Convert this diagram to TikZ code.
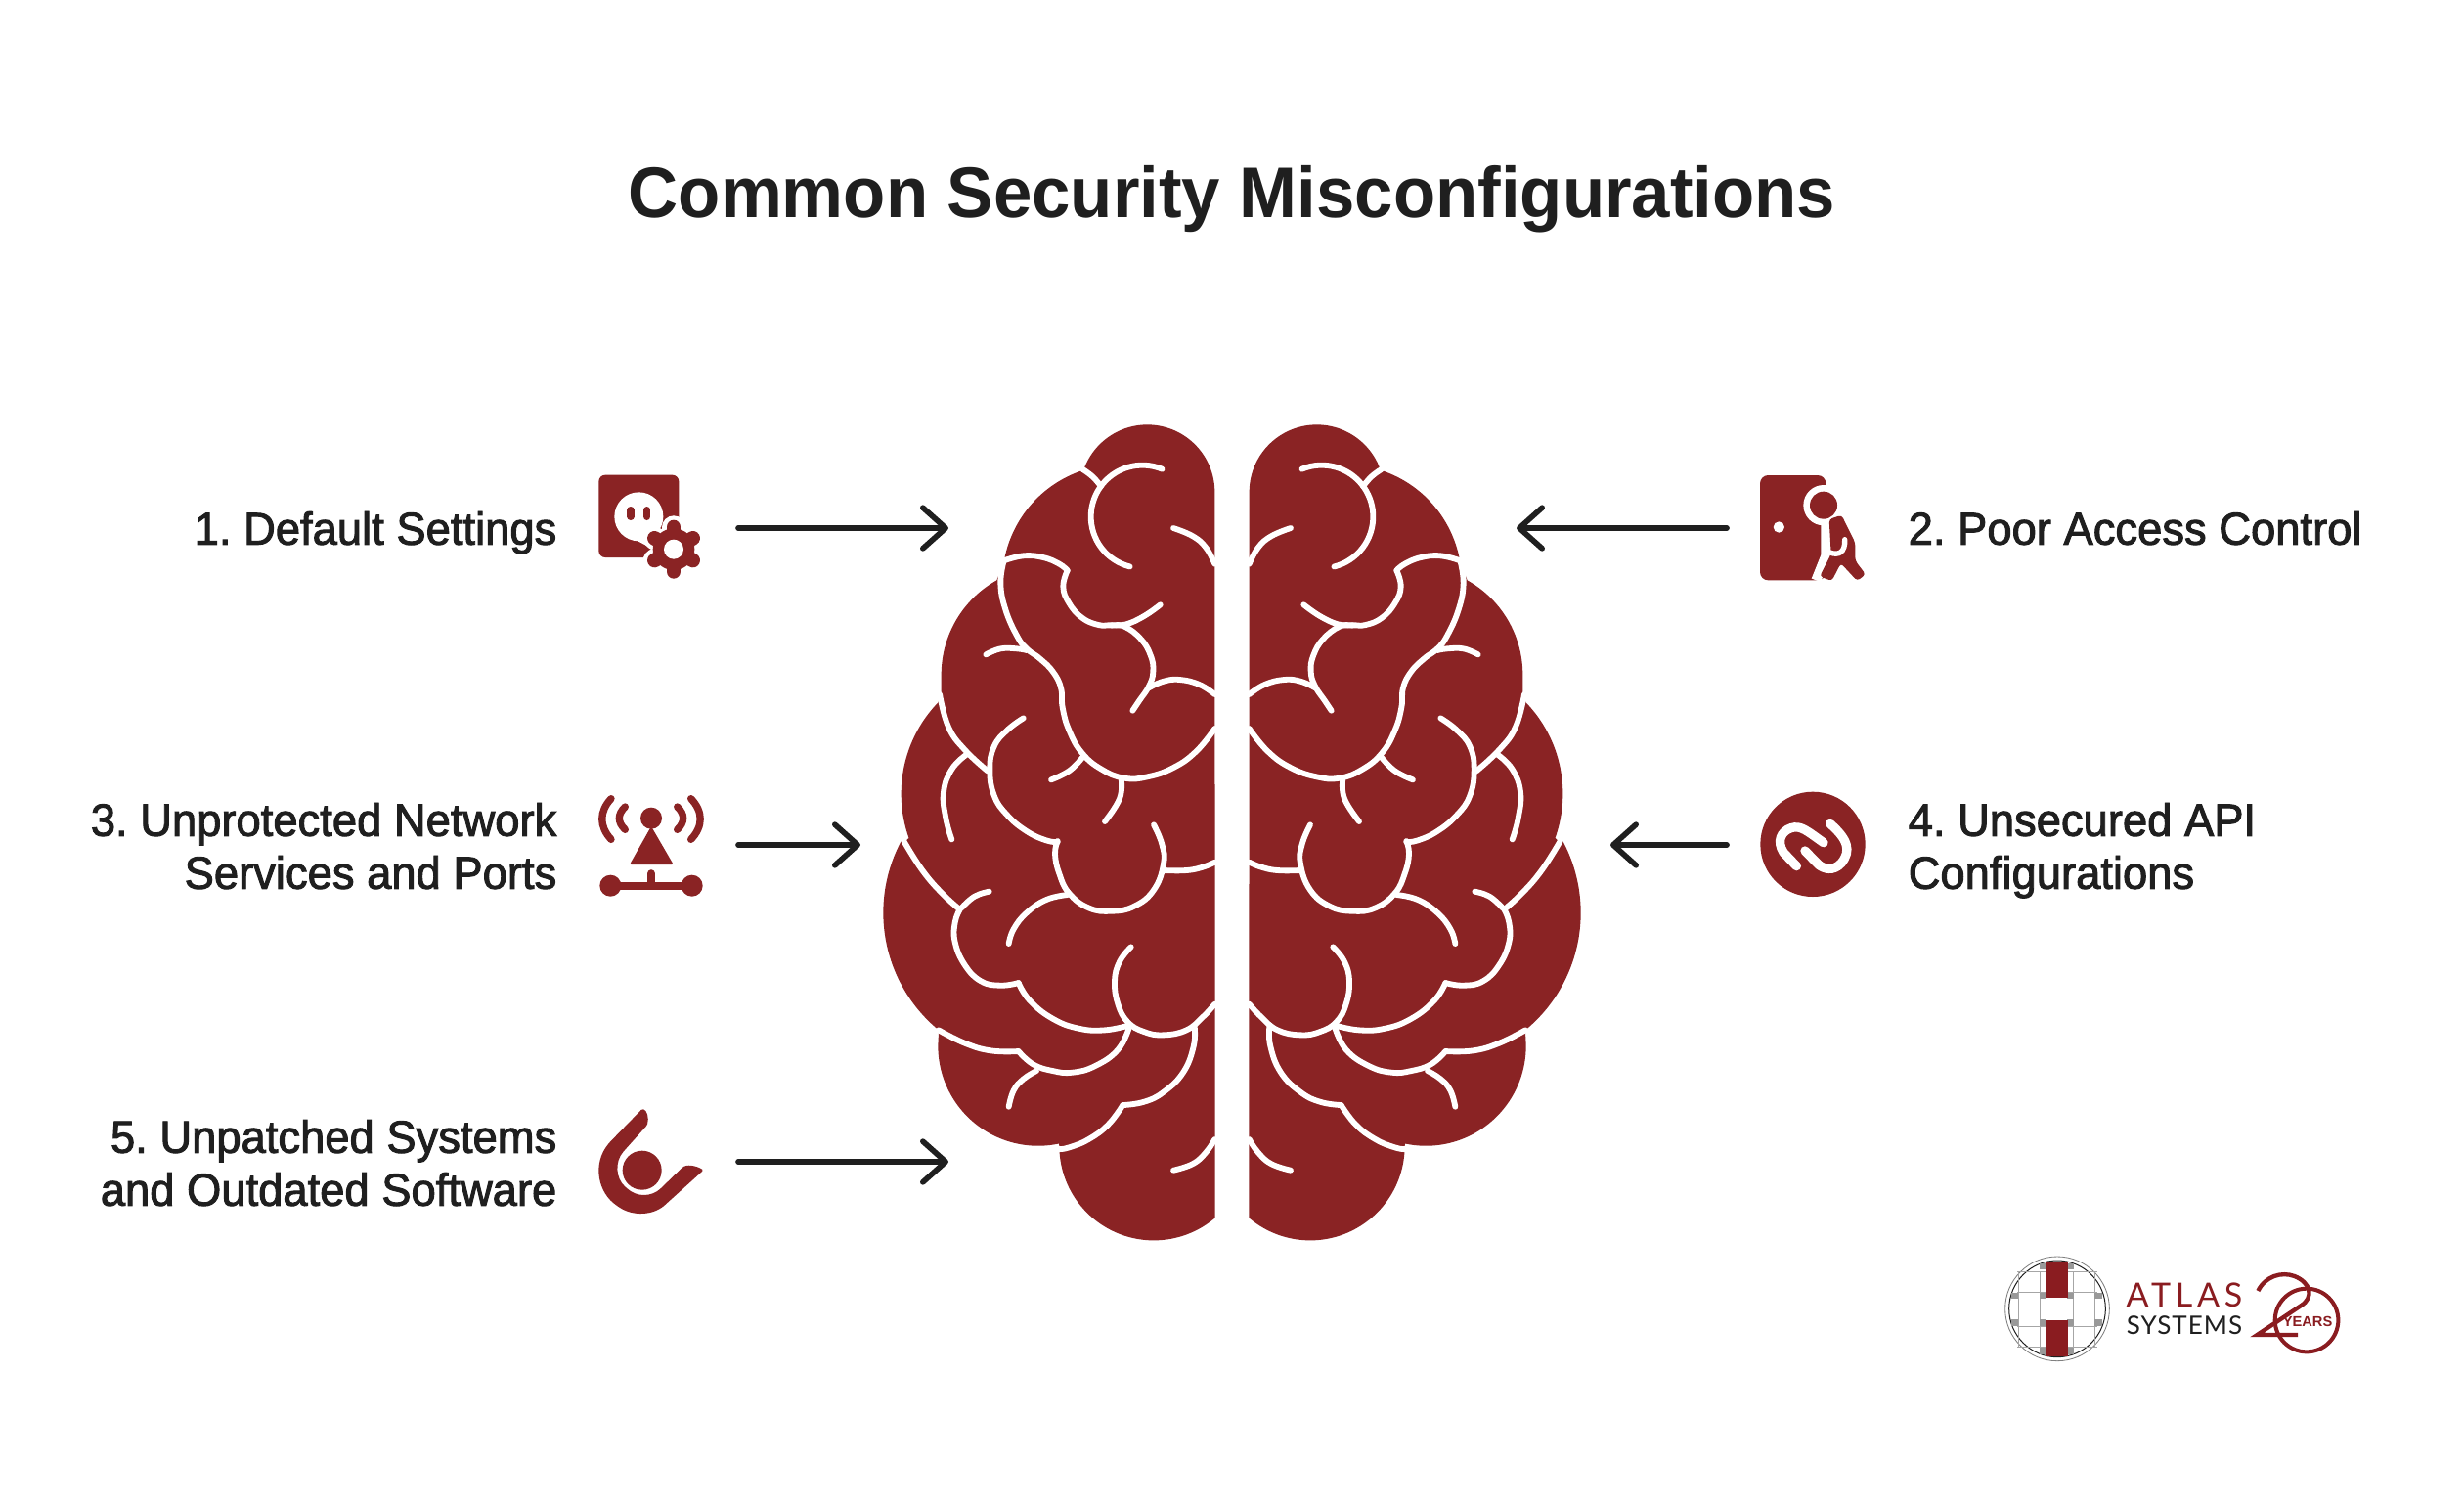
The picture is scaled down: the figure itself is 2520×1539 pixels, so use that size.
\documentclass[tikz,border=0pt]{standalone}
\usepackage{fontspec}
\usetikzlibrary{arrows.meta}
\setmainfont{Liberation Sans}
\frenchspacing
\newfontfamily\labelfont[FakeBold=2.0,FakeStretch=0.972]{Liberation Sans}
\newfontfamily\titlefont[FakeStretch=0.965]{Liberation Sans Bold}
\newfontfamily\logofont[LetterSpace=14]{Lato}
\newfontfamily\logofontb[LetterSpace=4]{Lato}
\newfontfamily\yearsfont{Liberation Sans Bold}
\definecolor{brainred}{HTML}{8A2324}
\definecolor{logored}{HTML}{8A1C20}
\definecolor{inkdark}{HTML}{1F1F1F}
\tikzset{
 brainline/.style={white,line width=1.75pt,line cap=round,line join=round},
 connector/.style={draw=inkdark,line width=1.7pt,line cap=round,-{Straight Barb[round,length=7pt,width=12.5pt,line width=1.7pt]}},
 leftlabel/.style={anchor=east,align=right,font=\labelfont\fontsize{14}{16.2}\selectfont,text=inkdark,inner sep=0pt},
 rightlabel/.style={anchor=west,align=left,font=\labelfont\fontsize{14}{16.2}\selectfont,text=inkdark,inner sep=0pt},
 zoomed/.style={x=0.1pt,y=-0.1pt},
 icon/.style={brainred},
 arcpl/.style={domain=#1,samples=40,smooth},
}
\newcommand\wl[1]{\draw[brainline] plot[smooth,tension=0.75] coordinates {#1};}
\newcommand\brainhalf{%
 \begin{scope}[shift={(880,400)},zoomed]
 \fill[brainred]
  (1087,310) -- plot[arcpl=0:-158] ({880+207*cos(\x)},{310+207*sin(\x)})
  -- plot[arcpl=-106.8:-169.7] ({794+359*cos(\x)},{584+359*sin(\x)})
  -- plot[arcpl=-119.2:-180] ({580+332*cos(\x)},{870+332*sin(\x)})
  -- (248,930) -- (238,955)
  -- plot[arcpl=-134:-199.7] ({528+403*cos(\x)},{1235+403*sin(\x)})
  -- (133,1385)
  -- plot[arcpl=-152:-230.6] ({536+466*cos(\x)},{1600+466*sin(\x)})
  -- plot[arcpl=180:78] ({545+307*cos(\x)},{2008+307*sin(\x)})
  -- plot[arcpl=180:49.6] ({900+290*cos(\x)},{2315+290*sin(\x)})
  -- cycle;
 \draw[brainline] plot[domain=-67.5:-256,samples=40,smooth] ({865+158*cos(\x)},{385+158*sin(\x)});
 \wl{(682,240)(712,262)(738,292)}
 \wl{(960,420)(1020,445)(1060,480)(1087,530)}
 \wl{(440,520)(500,505)(560,510)(610,530)(635,550)}
 \wl{(635,550)(622,600)(640,650)(680,695)(730,717)(770,718)(810,722)(860,760)(890,810)(898,860)(885,905)(855,950)(835,980)}
 \wl{(770,718)(815,715)(870,690)(920,655)}
 \wl{(440,520)(430,590)(445,670)(480,750)(510,790)(550,820)(590,860)(615,910)(620,970)(640,1040)(680,1110)(740,1160)(810,1187)(880,1183)(960,1155)(1030,1105)(1087,1035)}
 \wl{(885,910)(930,890)(980,885)(1040,900)(1087,930)}
 \wl{(385,808)(430,790)(480,790)(510,795)}
 \wl{(243,930)(270,1030)(320,1100)(390,1165)}
 \wl{(500,1003)(450,1040)(410,1090)(397,1160)(410,1240)(450,1300)(510,1350)(570,1378)(605,1383)}
 \wl{(325,1115)(280,1160)(255,1230)(262,1310)(280,1375)}
 \wl{(585,1192)(640,1165)(680,1125)}
 \wl{(800,1190)(795,1250)(750,1320)}
 \begin{scope}[shift={(0,1320)}]
 \wl{(605,60)(597,100)(610,160)(640,220)(700,265)(770,275)(840,260)(900,210)(930,130)(925,70)(900,10)}
 \wl{(133,60)(190,150)(250,220)(305,270)}
 \wl{(305,270)(290,310)(290,370)(320,440)(370,490)(430,503)(485,495)}
 \wl{(485,495)(520,550)(590,605)(670,635)(750,640)(825,625)}
 \wl{(395,215)(350,230)(310,265)}
 \wl{(635,225)(570,240)(510,280)(470,330)(455,375)}
 \wl{(930,150)(1000,150)(1050,140)(1087,125)}
 \wl{(830,385)(795,430)(780,490)(790,560)(820,615)(870,645)(930,655)(1000,640)(1050,600)(1087,560)}
 \wl{(240,640)(320,680)(400,703)(485,705)}
 \wl{(485,705)(530,745)(590,765)(650,770)(720,750)(790,700)(825,630)}
 \wl{(540,765)(500,790)(470,825)(455,875)}
 \wl{(1025,630)(1022,690)(990,770)(930,830)(870,860)(805,870)}
 \wl{(805,870)(760,930)(700,975)(640,1000)(610,1005)}
 \wl{(960,1070)(1020,1050)(1060,1015)(1087,975)}
 \end{scope}
 \end{scope}}
\begin{document}
\begin{tikzpicture}[x=0.3pt,y=-0.3pt]
\useasboundingbox (0,0) rectangle (2520,1539);
\fill[white] (0,0) rectangle (2520,1539);
% title
\node[text=inkdark,inner sep=0pt,font=\titlefont\fontsize{22}{26}\selectfont] (title) at (1260,204) {Common Security Misconfigurations};
% brain
\brainhalf
\begin{scope}[shift={(2520,0)},xscale=-1]
\brainhalf
\end{scope}
% labels
\node[leftlabel] (l1) at (570,546) {\strut 1. Default Settings};
\node[rightlabel] (l2) at (1951,546) {\strut 2. Poor Access Control};
\node[leftlabel] (l3) at (570,871) {\strut 3. Unprotected Network\\\strut Services and Ports};
\node[rightlabel] (l4) at (1951,871) {\strut 4. Unsecured API\\\strut Configurations};
\node[leftlabel] (l5) at (570,1195) {\strut 5. Unpatched Systems\\\strut and Outdated Software};
% connector ends
\coordinate (a1s) at (755,540); \coordinate (a1e) at (970,540);
\coordinate (a2s) at (1766,540); \coordinate (a2e) at (1551,540);
\coordinate (a3s) at (755,864); \coordinate (a3e) at (880,864);
\coordinate (a4s) at (1766,864); \coordinate (a4e) at (1647,864);
\coordinate (a5s) at (755,1188); \coordinate (a5e) at (970,1188);
\draw[connector] (a1s) -- (a1e);
\draw[connector] (a2s) -- (a2e);
\draw[connector] (a3s) -- (a3e);
\draw[connector] (a4s) -- (a4e);
\draw[connector] (a5s) -- (a5e);
% icon 1
\begin{scope}[shift={(590,470)},zoomed]
 \fill[icon,rounded corners=2pt] (67,47) rectangle (313,300);
 \fill[white] (190,175) circle[radius=75];
 \fill[white] (140,225) -- (210,262) -- (240,215) -- cycle;
 \draw[icon,line width=2.2pt,line cap=round] (165,155) -- (165,175);
 \draw[icon,line width=2.2pt,line cap=round] (215,155) -- (215,175);
 \foreach \a in {30,90,...,330} \draw[white,line width=7pt,line cap=round] (297,275) -- ++(\a:68);
 \foreach \a in {30,90,...,330} \draw[icon,line width=4.4pt,line cap=round] (297,275) -- ++(\a:68);
 \fill[icon] (297,275) circle[radius=64];
 \fill[white] (297,275) circle[radius=30];
\end{scope}
% icon 2
\begin{scope}[shift={(1780,470)},zoomed]
 \fill[icon,rounded corners=2.5pt] (60,48) rectangle (262,370);
 \fill[white] (118,207) circle[radius=17];
 \fill[white] (255,140) circle[radius=62];
 \fill[white] (262,180) rectangle (400,380);
 \draw[white,line width=3pt] (262,190) -- (262,295) -- (232,370);
 \fill[icon] (255,140) circle[radius=42];
 \fill[icon,rounded corners=1pt] (272,183) -- (310,170) -- (352,255) -- (352,310) -- (384,352) -- (358,372) -- (308,318) -- (280,372) -- (243,358) -- (278,290) -- cycle;
 \draw[white,line width=1.6pt,line cap=round] (275,285) .. controls (300,295) and (322,285) .. (320,245);
\end{scope}
% icon 3
\begin{scope}[shift={(590,790)},zoomed]
 \draw[icon,line width=2.2pt,line cap=round] (105,80) .. controls (68,120) and (68,165) .. (105,205);
 \draw[icon,line width=2.2pt,line cap=round] (148,105) .. controls (124,128) and (124,152) .. (148,175);
 \draw[icon,line width=2.2pt,line cap=round] (350,80) .. controls (388,120) and (388,165) .. (350,205);
 \draw[icon,line width=2.2pt,line cap=round] (308,105) .. controls (332,128) and (332,152) .. (308,175);
 \fill[icon] (228,140) circle[radius=33];
 \fill[icon,rounded corners=0.5pt] (228,165) -- (296,282) -- (162,282) -- cycle;
 \draw[icon,line width=2.5pt] (103,347) -- (353,347);
 \draw[icon,line width=2.5pt,line cap=round] (228,310) -- (228,347);
 \fill[icon] (103,347) circle[radius=33];
 \fill[icon] (353,347) circle[radius=33];
\end{scope}
% icon 4
\begin{scope}[shift={(1780,795)},zoomed]
 \fill[icon] (222,205) circle[radius=161];
 \draw[white,line width=2.8pt,line cap=round] (275,142) .. controls (330,190) and (340,225) .. (310,262) .. controls (285,290) and (255,280) .. (240,268) -- (198,225);
 \draw[white,line width=2.8pt,line cap=round] (172,272) -- (132,230) .. controls (110,195) and (125,165) .. (155,155) .. controls (185,145) and (205,165) .. (255,200);
\end{scope}
% icon 5
\begin{scope}[shift={(590,1110)},zoomed]
 \fill[icon,rounded corners=0.4pt] (200,72) .. controls (215,75) and (222,100) .. (215,122) -- (145,200) .. controls (115,235) and (120,285) .. (150,312) .. controls (185,345) and (230,340) .. (258,315) -- (325,250) .. controls (345,240) and (375,250) .. (388,260) -- (275,362) .. controls (235,400) and (170,402) .. (125,370) .. controls (65,330) and (45,240) .. (100,175) -- cycle;
 \fill[icon] (200,260) circle[radius=60];
\end{scope}
% logo
\begin{scope}[shift={(2030,1270)},zoomed]
 \draw[gray,line width=0.25pt] (222,205) circle[radius=160];
 \draw[inkdark,line width=0.3pt] (222,205) circle[radius=148];
 \foreach \yy in {90,155,258,322} \draw[gray!70,line width=0.2pt] (100,\yy) -- (344,\yy);
 \foreach \xx in {104,168,272,336} \draw[gray!70,line width=0.2pt] (\xx,90) -- (\xx,322);
 \foreach \xx/\yy in {178/75,262/75,92/165,178/165,262/165,348/165,92/248,178/248,262/248,348/248,178/335,262/335}
  \fill[gray!80] (\xx-11,\yy-10) rectangle (\xx+11,\yy+10);
 \fill[logored] (188,60) rectangle (255,172);
 \fill[logored] (188,240) rectangle (255,352);
 \node[text=logored,inner sep=0pt,font=\logofont\fontsize{10.2}{11}\selectfont] (atlas) at (612,163) {ATLAS};
 \node[text=inkdark,inner sep=0pt,font=\logofontb\fontsize{7.8}{9}\selectfont] (systems) at (612,256) {SYSTEMS};
 \draw[logored,line width=1.2pt] (987,240) circle[radius=97];
 \draw[logored,line width=1.3pt] (838,150) .. controls (860,105) and (910,90) .. (950,105) .. controls (1000,125) and (1010,170) .. (970,195) -- (835,285) -- (960,285);
 \node[text=logored,inner sep=0pt,font=\yearsfont\fontsize{4.4}{5}\selectfont] (years) at (990,243) {YEARS};
\end{scope}
\end{tikzpicture}
\end{document}
